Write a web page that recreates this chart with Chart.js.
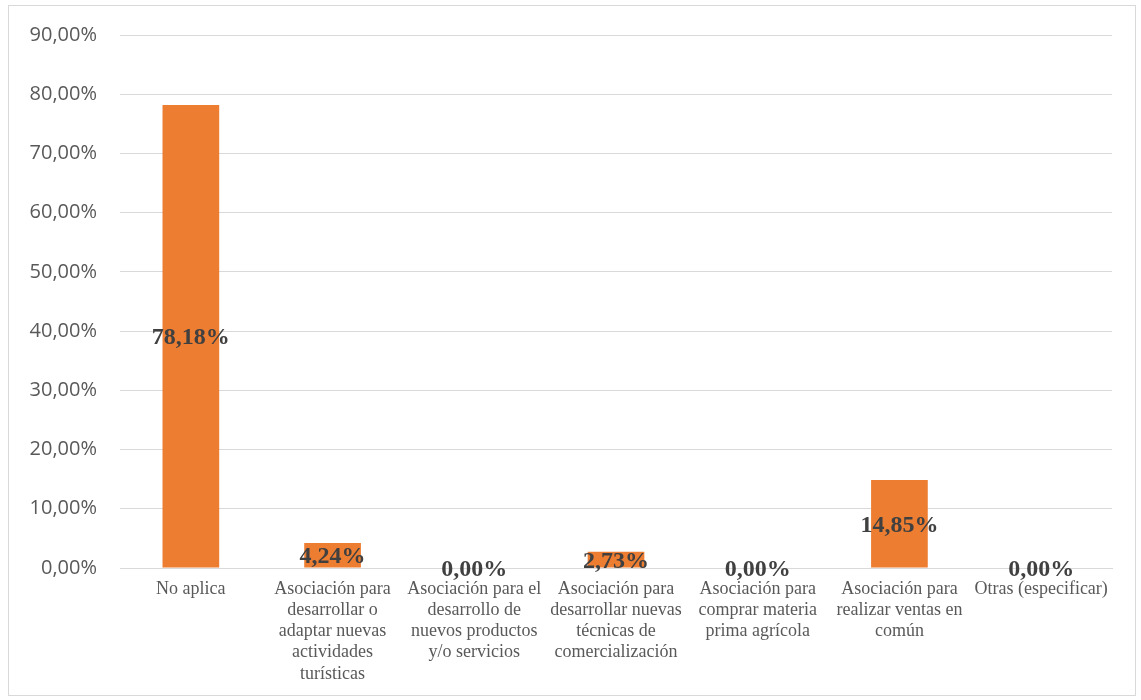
<!DOCTYPE html>
<html>
<head>
<meta charset="utf-8">
<script src="https://cdn.jsdelivr.net/npm/chart.js@4"></script>
<style>
html,body{margin:0;padding:0;background:#fff;}
#wrap{position:absolute;left:0;top:0;width:1141px;height:700px;}
#frame{position:absolute;left:8px;top:5px;width:1128px;height:691px;border:1px solid #d9d9d9;box-sizing:border-box;pointer-events:none;}
</style>
</head>
<body>
<div id="wrap"><canvas id="c" width="1141" height="700"></canvas></div>
<div id="frame"></div>
<script>
const categories = [
  ["No aplica"],
  ["Asociación para", "desarrollar o", "adaptar nuevas", "actividades", "turísticas"],
  ["Asociación para el", "desarrollo de", "nuevos productos", "y/o servicios"],
  ["Asociación para", "desarrollar nuevas", "técnicas de", "comercialización"],
  ["Asociación para", "comprar materia", "prima agrícola"],
  ["Asociación para", "realizar ventas en", "común"],
  ["Otras (especificar)"]
];
const values = [78.18, 4.24, 0.00, 2.73, 0.00, 14.85, 0.00];
const yTicks = [0, 10, 20, 30, 40, 50, 60, 70, 80, 90];

function fmt(v){ return v.toFixed(2).replace('.', ',') + '%'; }

const labelPlugin = {
  id: 'barLabels',
  afterDatasetsDraw(chart){
    const ctx = chart.ctx;
    const meta = chart.getDatasetMeta(0);
    ctx.save();
    ctx.font = 'bold 24px "Liberation Serif", "Times New Roman", serif';
    ctx.fillStyle = '#404040';
    ctx.textAlign = 'center';
    ctx.textBaseline = 'middle';
    meta.data.forEach((bar, i) => {
      const v = values[i];
      const y = (bar.y + bar.base) / 2;
      ctx.fillText(fmt(v), bar.x, y + 2);
    });
    ctx.restore();
  }
};

new Chart(document.getElementById('c'), {
  type: 'bar',
  data: {
    labels: categories,
    datasets: [{
      data: values,
      backgroundColor: '#ED7D31',
      borderWidth: 0,
      categoryPercentage: 1.0,
      barPercentage: 0.4
    }]
  },
  options: {
    responsive: false,
    animation: false,
    devicePixelRatio: 1,
    layout: { padding: { top: 35, right: 29, left: 0, bottom: 0 } },
    plugins: { legend: { display: false }, tooltip: { enabled: false } },
    scales: {
      x: {
        grid: { display: false, drawTicks: false },
        border: { color: '#d9d9d9', width: 1 },
        ticks: {
          autoSkip: false, maxRotation: 0, minRotation: 0,
          color: '#595959',
          padding: 11,
          font: { family: '"Liberation Serif", "Times New Roman", serif', size: 18, lineHeight: 1.17 }
        },
        afterFit(s){ s.height = 132; }
      },
      y: {
        min: 0, max: 90,
        afterBuildTicks(s){ s.ticks = yTicks.map(v => ({ value: v })); },
        grid: { color: '#d9d9d9', lineWidth: 1, drawTicks: false },
        border: { display: false },
        ticks: {
          color: '#595959',
          padding: 23,
          font: { family: '"Open Sans", sans-serif', size: 20 },
          callback: v => fmt(v)
        },
        afterFit(s){ s.width = 120; }
      }
    }
  },
  plugins: [labelPlugin]
});
</script>
</body>
</html>
